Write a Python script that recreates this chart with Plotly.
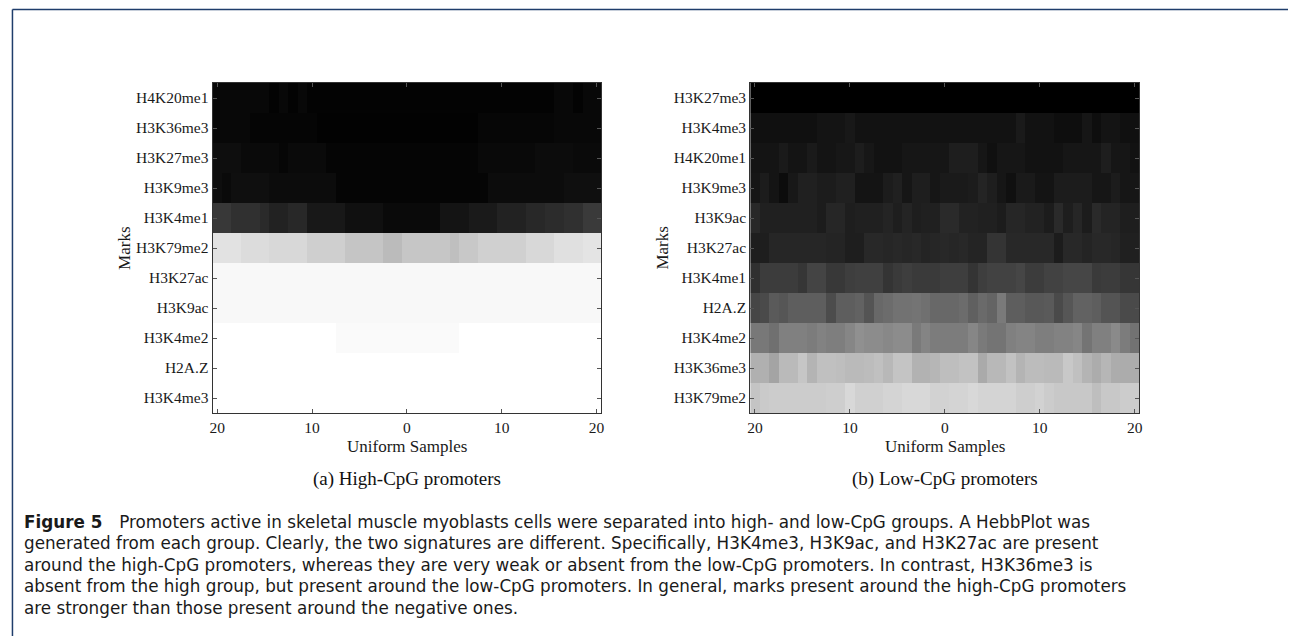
import plotly.graph_objects as go

# ---------------- data ----------------
positions = list(range(-20, 21))          # 41 uniform samples
x_tick_vals = [-20, -10, 0, 10, 20]
x_tick_text = ["20", "10", "0", "10", "20"]

high_marks = ["H4K20me1", "H3K36me3", "H3K27me3", "H3K9me3", "H3K4me1", "H3K79me2",
              "H3K27ac", "H3K9ac", "H3K4me2", "H2A.Z", "H3K4me3"]
low_marks = ["H3K27me3", "H3K4me3", "H4K20me1", "H3K9me3", "H3K9ac", "H3K27ac",
             "H3K4me1", "H2A.Z", "H3K4me2", "H3K36me3", "H3K79me2"]

# grey level (0 = black / strong mark, 255 = white / absent), one list per row
high_H4K20me1 = [8, 8, 8, 8, 8, 8, 3, 8, 3, 8] + [3] * 26 + [8, 8, 3, 8, 8]
high_H3K36me3 = [8] * 4 + [5] * 7 + [2] * 17 + [6] * 8 + [8] * 5
high_H3K27me3 = [14] * 3 + [10] * 4 + [6] + [10] * 4 + [5] * 16 + [9] * 6 + [12] * 4 + [10] * 3
high_H3K9me3 = [14, 10] + [15] * 4 + [12] * 7 + [5] * 16 + [12] * 8 + [15] * 4
high_H3K4me1 = [56, 56, 48, 48, 48, 42, 34, 34, 40, 40, 24, 24, 24, 24, 16, 16, 16, 16,
                10, 10, 10, 10, 10, 10, 20, 20, 20, 26, 26, 26, 34, 34, 34, 40, 40,
                44, 44, 48, 48, 58, 58]
high_H3K79me2 = [226] * 3 + [220] * 3 + [216] * 4 + [207] * 4 + [197] * 4 + [187] * 2 + \
                [198] * 5 + [191] + [200] * 2 + [208] * 5 + [216] * 3 + [224] * 3 + [228] * 2
high_H3K27ac = [248] * 41
high_H3K9ac = [248] * 41
high_H3K4me2 = [255] * 13 + [250] * 13 + [255] * 15
high_H2AZ = [255] * 41
high_H3K4me3 = [255] * 41

low_H3K27me3 = [0] * 41
low_H3K4me3 = [16] * 7 + [20] * 3 + [24] + [18] * 17 + [26] + [18] * 3 + [14] * 3 + [22, 14, 20, 20, 16, 16]
low_H4K20me1 = [20, 20, 20, 26, 20, 20, 26, 20, 20, 23, 23, 29, 23, 18, 18, 18, 22, 22, 22, 22,
                22, 30, 30, 30, 22, 16, 22, 22, 22, 18, 18, 18, 18, 22, 22, 22, 22, 30, 22, 22, 18]
low_H3K9me3 = [22, 28, 20, 12, 24, 32, 32, 28, 28, 32, 32, 20, 20, 20, 28, 32, 22, 30, 30, 22,
               26, 26, 26, 28, 36, 30, 22, 16, 26, 26, 20, 20, 28, 28, 28, 28, 22, 22, 28, 22, 22]
low_H3K9ac = [40, 32, 32, 32, 32, 32, 32, 28, 38, 38, 30, 32, 32, 32, 36, 30, 36, 30, 32, 32,
              42, 42, 34, 34, 32, 32, 28, 38, 38, 34, 34, 28, 42, 30, 38, 28, 42, 36, 36, 30, 30]
low_H3K27ac = [30, 30, 38, 38, 38, 38, 38, 38, 36, 36, 30, 30, 40, 40, 38, 40, 38, 40, 36, 38,
               40, 38, 40, 36, 36, 52, 52, 40, 40, 40, 40, 40, 28, 40, 40, 36, 40, 40, 38, 32, 32]
low_H3K4me1 = [48, 60, 60, 60, 60, 54, 68, 68, 56, 56, 62, 64, 64, 64, 52, 58, 62, 58, 58, 58,
               62, 62, 62, 52, 62, 66, 66, 66, 70, 60, 60, 66, 66, 70, 70, 70, 58, 60, 60, 54, 54]
low_H2AZ = [70, 74, 90, 86, 94, 94, 94, 94, 76, 94, 94, 98, 84, 104, 108, 114, 114, 116, 112, 104,
            104, 104, 108, 96, 106, 100, 122, 94, 94, 88, 88, 90, 74, 86, 98, 98, 94, 84, 84, 74, 74]
low_H3K4me2 = [120, 120, 112, 128, 128, 128, 124, 130, 126, 126, 134, 144, 140, 140, 136, 140, 140,
               122, 132, 124, 124, 124, 124, 134, 122, 116, 116, 128, 132, 132, 126, 126, 130, 130,
               134, 116, 128, 128, 138, 124, 114]
low_H3K36me3 = [176, 176, 164, 186, 186, 198, 180, 192, 192, 190, 186, 186, 188, 192, 184, 196, 196,
                178, 178, 182, 190, 190, 194, 194, 170, 184, 184, 194, 180, 188, 188, 186, 186, 200,
                192, 180, 172, 182, 172, 172, 172]
low_H3K79me2 = [196, 202, 204, 204, 204, 204, 204, 204, 206, 206, 216, 208, 208, 208, 212, 212, 216,
                216, 216, 210, 210, 212, 212, 216, 212, 212, 212, 212, 206, 206, 210, 204, 200, 200,
                200, 200, 190, 200, 200, 204, 204]

high_rows = [high_H4K20me1, high_H3K36me3, high_H3K27me3, high_H3K9me3, high_H3K4me1, high_H3K79me2,
             high_H3K27ac, high_H3K9ac, high_H3K4me2, high_H2AZ, high_H3K4me3]
low_rows = [low_H3K27me3, low_H3K4me3, low_H4K20me1, low_H3K9me3, low_H3K9ac, low_H3K27ac,
            low_H3K4me1, low_H2AZ, low_H3K4me2, low_H3K36me3, low_H3K79me2]

caption_lines = [
    "<b>Figure 5</b>\u2003Promoters active in skeletal muscle myoblasts cells were separated into high- and low-CpG groups. A HebbPlot was",
    "generated from each group. Clearly, the two signatures are different. Specifically, H3K4me3, H3K9ac, and H3K27ac are present",
    "around the high-CpG promoters, whereas they are very weak or absent from the low-CpG promoters. In contrast, H3K36me3 is",
    "absent from the high group, but present around the low-CpG promoters. In general, marks present around the high-CpG promoters",
    "are stronger than those present around the negative ones.",
]

# ---------------- figure ----------------
W, H = 1291, 636
SERIF = "Liberation Serif"
SANS = "DejaVu Sans"

def px_x(p):
    return p / W

def px_y(p):
    return 1 - p / H

fig = go.Figure()
gray = [[0, "rgb(0,0,0)"], [1, "rgb(255,255,255)"]]

for rows, xa, ya in [(high_rows, "x", "y"), (low_rows, "x2", "y2")]:
    fig.add_trace(go.Heatmap(
        z=[[v / 255 for v in r] for r in rows],
        x=positions, y=list(range(len(rows))),
        colorscale=gray, zmin=0, zmax=1, showscale=False,
        xaxis=xa, yaxis=ya, hoverinfo="skip"))

plot_top, plot_bot = 83, 413
dom_y = [px_y(plot_bot), px_y(plot_top)]
panels = [(210.5, 601.0, high_marks), (750.7, 1141.7, low_marks)]

axis_common = dict(showline=True, linecolor="#333", linewidth=1, mirror="ticks",
                   ticks="inside", ticklen=4, tickcolor="#555", showgrid=False, zeroline=False,
                   tickfont=dict(family=SERIF, size=15.5, color="#1a1a1a"))

layout = dict(width=W, height=H, margin=dict(l=0, r=0, t=0, b=0),
              paper_bgcolor="white", plot_bgcolor="white", showlegend=False)

for i, (x0, x1, marks) in enumerate(panels):
    sfx = "" if i == 0 else str(i + 1)
    layout["xaxis" + sfx] = dict(domain=[px_x(x0), px_x(x1)], range=[-20.5, 20.5],
                                 tickvals=x_tick_vals, ticktext=x_tick_text,
                                 anchor="y" + sfx, **axis_common)
    layout["yaxis" + sfx] = dict(domain=dom_y, range=[len(marks) - 0.5, -0.5],
                                 tickvals=list(range(len(marks))), ticktext=marks,
                                 anchor="x" + sfx, **axis_common)

fig.update_layout(**layout)

ann = []
for i, (x0, x1, _) in enumerate(panels):
    cx = (x0 + x1) / 2
    ann.append(dict(text="Uniform Samples", x=px_x(cx), y=px_y(446.5), xref="paper", yref="paper",
                    showarrow=False, xanchor="center", yanchor="middle",
                    font=dict(family=SERIF, size=17, color="#1a1a1a")))
    ann.append(dict(text="Marks", x=px_x(x0 - 89), y=px_y(248), xref="paper", yref="paper",
                    showarrow=False, xanchor="center", yanchor="middle", textangle=-90,
                    font=dict(family=SERIF, size=17, color="#1a1a1a")))
    ann.append(dict(text=["(a) High-CpG promoters", "(b) Low-CpG promoters"][i],
                    x=px_x(cx), y=px_y(479), xref="paper", yref="paper",
                    showarrow=False, xanchor="center", yanchor="middle",
                    font=dict(family=SERIF, size=19, color="#111")))

for k, line in enumerate(caption_lines):
    ann.append(dict(text=line, x=px_x(19), y=px_y(521.5 + k * 21.6), xref="paper", yref="paper",
                    showarrow=False, xanchor="left", yanchor="middle", align="left",
                    font=dict(family=SANS, size=16.8, color="#1a1a1a")))

fig.update_layout(annotations=ann)

# frame of the figure box (top and left edges)
fig.add_shape(type="line", xref="paper", yref="paper", x0=px_x(9.5), x1=1.0, y0=px_y(9.5), y1=px_y(9.5),
              line=dict(color="#1f3d6b", width=1.5))
fig.add_shape(type="line", xref="paper", yref="paper", x0=px_x(9.5), x1=px_x(9.5), y0=0.0, y1=px_y(9.5),
              line=dict(color="#1f3d6b", width=1.5))

fig.write_html("out.html")
